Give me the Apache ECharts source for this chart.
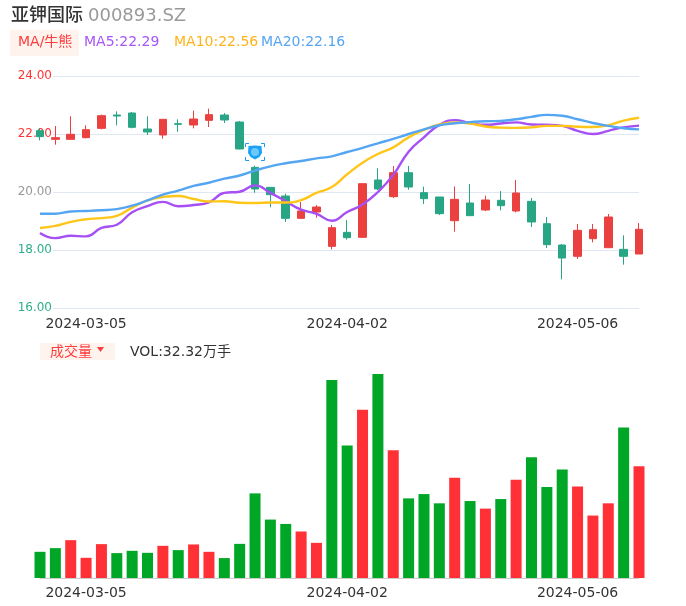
<!DOCTYPE html>
<html>
<head>
<meta charset="utf-8">
<style>html,body{margin:0;padding:0;background:#fff}#c{width:686px;height:606px}</style>
<script src="https://cdn.jsdelivr.net/npm/echarts@6/dist/echarts.min.js"></script>
</head>
<body>
<div id="c"></div>
<script>
const categories = ['','','','2024-03-05','','','','','','','','','','','','','','','','','2024-04-02','','','','','','','','','','','','','','','2024-05-06','','','',''];
const priceTicks = {24:'#ff3333',22:'#ff3333',20:'#999999',18:'#2fae8b',16:'#2fae8b'};
// [open, close, low, high]
const candles = [
[22.115,21.908,21.782,22.207],[21.816,21.874,21.632,22.276],[21.816,21.989,21.816,22.609],[21.874,22.149,21.85,22.299],
[22.195,22.632,22.16,22.667],[22.655,22.62,22.299,22.782],[22.724,22.23,22.195,22.759],[22.172,22.069,21.966,22.609],
[21.966,22.506,21.839,22.517],[22.356,22.333,22.08,22.506],[22.31,22.517,22.195,22.805],[22.471,22.667,22.241,22.874],
[22.655,22.483,22.379,22.724],[22.414,21.483,21.471,22.448],[20.851,20.103,19.977,20.908],[20.161,19.908,19.471,20.172],
[19.862,19.092,18.966,19.943],[19.092,19.345,19.092,19.655],[19.31,19.483,19.115,19.552],[18.126,18.77,18.023,18.862],
[18.609,18.425,18.356,19.034],[18.437,20.287,18.425,20.287],[20.414,20.103,20.069,20.816],[19.839,20.667,19.793,20.897],
[20.667,20.172,20.08,20.897],[19.977,19.77,19.586,20.184],[19.828,19.253,19.207,19.828],[19.011,19.747,18.632,20.195],
[19.621,19.184,19.184,20.276],[19.379,19.724,19.345,19.874],[19.713,19.529,19.368,20.034],[19.345,19.966,19.299,20.414],
[19.678,18.966,18.793,19.793],[18.908,18.184,18.069,19.138],[18.172,17.724,16.989,18.207],[17.782,18.678,17.69,18.897],
[18.391,18.701,18.264,18.897],[18.08,19.138,18.08,19.241],[18.023,17.782,17.494,18.506],[17.862,18.713,17.862,18.931]
];
const ma5 = [18.59,18.41,18.49,18.47,18.76,18.87,19.30,19.51,19.66,19.51,19.55,19.64,19.97,20.01,20.23,19.97,19.68,19.39,19.25,19.01,19.31,19.57,20.0,20.59,21.39,21.885,22.31,22.48,22.38,22.32,22.36,22.40,22.33,22.32,22.28,22.11,22.0,22.11,22.23,22.29];
const ma10 = [18.76,18.83,18.97,19.06,19.10,19.18,19.46,19.71,19.83,19.86,19.76,19.67,19.68,19.63,19.62,19.64,19.64,19.72,19.97,20.17,20.61,21.01,21.31,21.54,21.885,22.14,22.33,22.40,22.36,22.26,22.22,22.21,22.23,22.28,22.28,22.25,22.24,22.30,22.46,22.56];
const ma20 = [19.25,19.25,19.33,19.345,19.37,19.41,19.53,19.71,19.91,20.05,20.21,20.32,20.46,20.57,20.74,20.885,20.99,21.07,21.16,21.23,21.38,21.52,21.68,21.83,22.0,22.16,22.30,22.37,22.41,22.44,22.45,22.51,22.59,22.66,22.63,22.51,22.38,22.28,22.2,22.16];
const volumes = [7.57,8.63,10.94,5.84,9.79,7.2,7.86,7.28,9.3,8.06,9.7,7.57,5.76,9.87,24.46,16.89,15.63,13.44,10.16,57.27,38.28,48.64,59.0,36.93,23.02,24.26,21.59,28.98,22.25,20.06,22.82,28.41,34.91,26.28,31.37,26.48,18.05,21.59,43.54,32.32];
const volumeUp = [0,0,1,1,1,0,0,0,1,0,1,1,0,0,0,0,0,1,1,0,0,1,0,1,0,0,0,1,0,1,0,1,0,0,0,1,1,1,0,1];

const FONT = '"DejaVu Sans","Noto Sans CJK SC",sans-serif';
const chart = echarts.init(document.getElementById('c'), null, {renderer:'canvas'});
const txt = (x,y,text,fill,size,w) => ({type:'text',x,y,style:{text,fill,font:(w||'normal')+' '+size+'px '+FONT,textVerticalAlign:'middle'},silent:true,z:10});
const corner = (pts) => ({type:'polyline',shape:{points:pts},style:{stroke:'#1a9cf5',lineWidth:1,fill:null},z:10,silent:true});
const lineSeries = (name,data,color) => ({name,type:'line',xAxisIndex:0,yAxisIndex:0,data,smooth:true,symbol:'none',clip:false,lineStyle:{color,width:2.4},z:3});

chart.setOption({
  animation:false,
  backgroundColor:'#fff',
  grid:[
    {left:40,right:47,top:76,height:232},
    {left:40,right:47,top:358,height:220},
    {left:53,right:47,top:76,height:232}
  ],
  xAxis:[
    {type:'category',gridIndex:0,data:categories,boundaryGap:false,axisLine:{show:false},axisTick:{show:false},splitLine:{show:false},
     axisLabel:{interval:0,color:'#333',fontSize:14,fontFamily:FONT,margin:9}},
    {type:'category',gridIndex:1,data:categories,boundaryGap:false,axisLine:{show:true,lineStyle:{color:'#cccccc',width:1}},axisTick:{show:false},splitLine:{show:false},
     axisLabel:{interval:0,color:'#333',fontSize:14,fontFamily:FONT,margin:8}},
    {type:'value',gridIndex:2,min:0,max:1,show:false}
  ],
  yAxis:[
    {type:'value',gridIndex:0,min:16,max:24,interval:2,show:false},
    {type:'value',gridIndex:1,min:0,max:63.6,show:false},
    {type:'value',gridIndex:2,min:16,max:24,interval:2,axisLine:{show:false},axisTick:{show:false},
     splitLine:{show:true,lineStyle:{color:'#e1e6f3',width:1}},
     axisLabel:{margin:1,fontSize:12,fontFamily:FONT,lineHeight:14,padding:[4,0,0,0],formatter:v=>v.toFixed(2),color:v=>priceTicks[Math.round(v)]}}
  ],
  series:[
    {type:'candlestick',xAxisIndex:0,yAxisIndex:0,data:candles,barWidth:8,clip:false,z:2,
     itemStyle:{color:'#ea4040',color0:'#28a585',borderColor:'#ea4040',borderColor0:'#28a585',borderWidth:1}},
    lineSeries('MA5',ma5,'#a64ff5'),
    lineSeries('MA10',ma10,'#ffc61a'),
    lineSeries('MA20',ma20,'#55a6f2'),
    {type:'bar',xAxisIndex:1,yAxisIndex:1,barWidth:11,clip:false,
     data:volumes.map((v,i)=>({value:v,itemStyle:{color:volumeUp[i]?'#ff3036':'#00a626'}}))}
  ],
  graphic:[
    txt(11,16,'亚钾国际','#333333',18,'500'),
    txt(88,16,'000893.SZ','#999999',18),
    {type:'rect',shape:{x:10,y:30,width:69,height:26},style:{fill:'#fff3ee'},z:9,silent:true},
    txt(18,42,'MA/牛熊','#ff3b3b',14),
    txt(84,42,'MA5:22.29','#a855f7',14),
    txt(174,42,'MA10:22.56','#ffb31a',14),
    txt(261,42,'MA20:22.16','#55a6f2',14),
    {type:'rect',shape:{x:40,y:343,width:75,height:17},style:{fill:'#fff3ee'},z:9,silent:true},
    txt(50,352,'成交量','#ff3b3b',14),
    {type:'polygon',shape:{points:[[97,347],[104,347],[100.5,352]]},style:{fill:'#ff3b3b'},z:10,silent:true},
    txt(130,352,'VOL:32.32万手','#333333',14),
    // badge icon
    {type:'polygon',shape:{points:[[248.5,146],[255,145.5],[261.5,146],[262,153],[259.5,157],[255,159.5],[250.5,157],[248,153]]},style:{fill:'#1aa3f5'},z:10,silent:true},
    {type:'circle',shape:{cx:255,cy:152,r:4},style:{fill:'#6cc8fa'},z:11,silent:true},
    corner([[245.5,147],[245.5,143.5],[249,143.5]]),
    corner([[261,143.5],[264.5,143.5],[264.5,147]]),
    corner([[245.5,157],[245.5,160.5],[249,160.5]]),
    corner([[261,160.5],[264.5,160.5],[264.5,157]])
  ]
});
</script>
</body>
</html>
